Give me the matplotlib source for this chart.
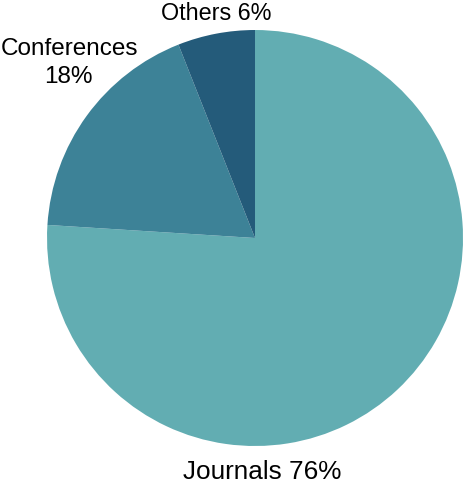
import matplotlib
matplotlib.use("Agg")
import matplotlib.pyplot as plt

labels = ["Journals", "Conferences", "Others"]
shares = [76, 18, 6]
colors = ["#62ADB2", "#3D8297", "#245B7A"]

plt.rcParams["font.family"] = ["Liberation Sans", "DejaVu Sans"]

fig = plt.figure(figsize=(4.64, 4.84), dpi=100)
ax = fig.add_axes([0.1013, 0.0785, 0.8966, 0.8595])
ax.pie(shares, colors=colors, startangle=90, counterclock=False,
       wedgeprops={"linewidth": 0})
ax.set_aspect("equal")
ax.set_xlim(-1, 1)
ax.set_ylim(-1, 1)

ax.text(0.034, -1.160, f"{labels[0]} {shares[0]}%", ha="center", va="baseline",
        fontsize=18.8, clip_on=False)
ax.text(-0.894, 0.880, labels[1], ha="center", va="baseline",
        fontsize=17.5, clip_on=False)
ax.text(-0.896, 0.745, f"{shares[1]}%", ha="center", va="baseline",
        fontsize=17.5, clip_on=False)
ax.text(-0.188, 1.050, f"{labels[2]} {shares[2]}%", ha="center", va="baseline",
        fontsize=16.8, clip_on=False)

fig.savefig("out.png", dpi=100)
